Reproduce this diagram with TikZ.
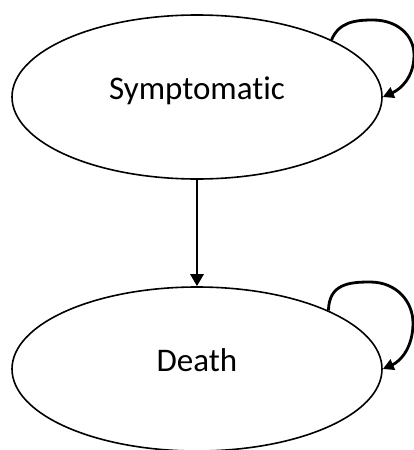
\documentclass[tikz,border=0pt]{standalone}
\usepackage{fontspec}
\setmainfont[Ligatures=NoCommon]{Carlito}
\usetikzlibrary{shapes.geometric,arrows.meta,calc}
\tikzset{
  state/.style={draw=black, line width=1.6pt, ellipse, minimum width=370pt, minimum height=164pt,
    inner sep=0pt, font=\fontsize{33}{39}\selectfont, text height=12pt, text depth=7pt},
  conn/.style={line width=2.8pt, -{Triangle[length=12pt,width=13pt]}},
  loopconn/.style={line width=2.8pt, -{Triangle[length=11pt,width=11pt]}}
}
\begin{document}
\begin{tikzpicture}[x=1pt,y=-1pt]
\useasboundingbox (0,0) rectangle (414,450);
\node[state] (s) at (197,97) {Symptomatic};
\node[state] (d) at (197,369) {Death};
\draw[conn] (s.south) -- (d.north);
\draw[loopconn] (s.23) .. controls ($(s.center)+(142,-75)$) and ($(s.center)+(158,-77)$) .. ($(s.center)+(176,-77)$)
  .. controls ($(s.center)+(200,-77)$) and ($(s.center)+(217,-62)$) .. ($(s.center)+(217,-42)$)
  .. controls ($(s.center)+(217,-20)$) and ($(s.center)+(204,-8)$) .. (s.east);
\draw[loopconn] (d.24) .. controls ($(d.center)+(132,-85)$) and ($(d.center)+(152,-87)$) .. ($(d.center)+(173,-87)$)
  .. controls ($(d.center)+(200,-87)$) and ($(d.center)+(216,-67)$) .. ($(d.center)+(216,-46)$)
  .. controls ($(d.center)+(216,-22)$) and ($(d.center)+(204,-8)$) .. (d.east);
\end{tikzpicture}
\end{document}
